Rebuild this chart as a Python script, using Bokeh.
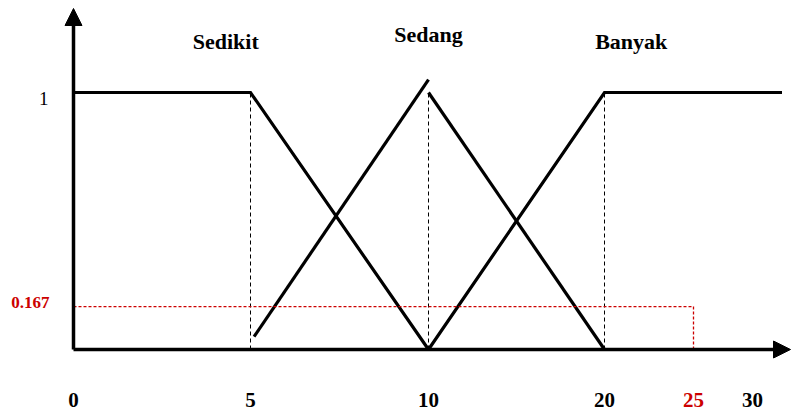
import numpy as np
from bokeh.plotting import figure
from bokeh.models import Range1d, Arrow, NormalHead, ColumnDataSource
from bokeh.embed import file_html
from bokeh.resources import INLINE
from bokeh.core.properties import value

# ---- data -----------------------------------------------------------------
# universe of discourse and the labels written under the axis
universe = [0, 5, 10, 20, 25, 30]
tick_labels = ["0", "5", "10", "20", "25", "30"]

# membership functions, given by their breakpoints
sedikit_x = [0, 5, 10]
sedikit_y = [1.0, 1.0, 0.0]
sedang_rise_x = [5.1, 10]
sedang_rise_y = [0.05, 1.05]
sedang_fall_x = [10, 20]
sedang_fall_y = [1.0, 0.0]
banyak_x = [10, 20, 32.5]
banyak_y = [0.0, 1.0, 1.0]

# crisp input and its degree of membership
input_x = 25
input_mu = 0.167

set_names = ["Sedikit", "Sedang", "Banyak"]

# ---- layout ---------------------------------------------------------------
# the horizontal axis is schematic: every universe value has its own stop
axis_stops = [0, 177, 355, 531, 620, 679]


def place(v):
    v = np.asarray(v, dtype=float)
    out = np.interp(v, universe, axis_stops)
    slope = (axis_stops[-1] - axis_stops[-2]) / (universe[-1] - universe[-2])
    return np.where(v > universe[-1], axis_stops[-1] + (v - universe[-1]) * slope, out)


W, H = 791, 414
X0, Y0 = 73, 349          # origin on the page
Y_UNIT = 257              # height of membership 1
RED = "#cc0000"
FONT = value("Liberation Serif")

p = figure(
    width=W, height=H,
    x_range=Range1d(-X0, W - X0),
    y_range=Range1d((Y0 - H) / Y_UNIT, Y0 / Y_UNIT),
    x_axis_location=None, y_axis_location=None,
    toolbar_location=None, output_backend="svg",
    min_border=0, outline_line_color=None,
)
p.xgrid.grid_line_color = None
p.ygrid.grid_line_color = None

# axes drawn as arrows
p.add_layout(Arrow(x_start=0, y_start=0, x_end=0, y_end=p.y_range.end - 8 / Y_UNIT,
                   line_width=3.5, line_color="black",
                   end=NormalHead(size=17, fill_color="black", line_color="black")))
p.add_layout(Arrow(x_start=0, y_start=0, x_end=p.x_range.end - 1, y_end=0,
                   line_width=3.5, line_color="black",
                   end=NormalHead(size=17, fill_color="black", line_color="black")))

# dashed guides at the breakpoints
for bx in (5, 10, 20):
    p.line(place([bx, bx]), [0, 1], line_color="black", line_width=1, line_dash="4 3")

# membership functions
for xs, ys in ((sedikit_x, sedikit_y), (sedang_rise_x, sedang_rise_y),
               (sedang_fall_x, sedang_fall_y), (banyak_x, banyak_y)):
    p.line(place(xs), ys, line_color="black", line_width=3.2, line_join="miter")

# input projection in red
p.line(place([0, input_x]), [input_mu, input_mu], line_color=RED, line_width=1.3, line_dash="3 2")
p.line(place([input_x, input_x]), [input_mu, 0], line_color=RED, line_width=1.3, line_dash="3 2")

# tick labels under the axis
tick_src = ColumnDataSource(dict(
    x=place(universe), y=[-0.195] * len(universe), text=tick_labels,
    color=[RED if u == input_x else "black" for u in universe],
))
p.text("x", "y", text="text", source=tick_src, text_color="color",
       text_font=FONT, text_font_style="bold", text_font_size="21px",
       text_align="center", text_baseline="middle")

# membership values on the vertical axis
p.text([-25], [0.977], text=["1"], text_color="black",
       text_font=FONT, text_font_size="19px",
       text_align="right", text_baseline="middle")
p.text([-24], [0.181], text=["0.167"], text_color=RED,
       text_font=FONT, text_font_style="bold", text_font_size="17px",
       text_align="right", text_baseline="middle")

# set names above the curves
name_x = [4.3, 10, 21.5]
name_y = [1.198, 1.226, 1.2]
p.text(place(name_x), name_y, text=set_names, text_color="black",
       text_font=FONT, text_font_style="bold", text_font_size="22px",
       text_align="center", text_baseline="middle")

open("out.html", "w").write(file_html(p, INLINE))
